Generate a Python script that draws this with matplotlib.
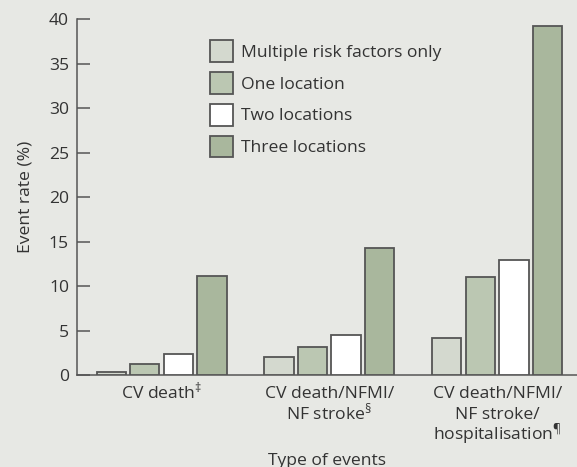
import matplotlib
matplotlib.use("Agg")
import matplotlib.pyplot as plt
import matplotlib.transforms as mtransforms
import numpy as np

categories = ["CV death$^{\\ddagger}$",
              "CV death/NFMI/\nNF stroke$^{\\S}$",
              "CV death/NFMI/\nNF stroke/\nhospitalisation$^{\\P}$"]
series_names = ["Multiple risk factors only", "One location", "Two locations", "Three locations"]
multiple_rf = [0.3, 2.0, 4.2]
one_loc = [1.2, 3.1, 11.0]
two_loc = [2.4, 4.5, 12.9]
three_loc = [11.1, 14.3, 39.3]
yticks = [0, 5, 10, 15, 20, 25, 30, 35, 40]

series = [multiple_rf, one_loc, two_loc, three_loc]
colors = ["#d4d9cf", "#bbc7b2", "#ffffff", "#a9b79d"]

bg = "#e7e8e4"
dark = "#555555"
txt = "#333333"
FS = 12.6
W, H = 577, 467

plt.rcParams['font.family'] = ['Open Sans', 'DejaVu Sans']
plt.rcParams['mathtext.fontset'] = 'custom'
plt.rcParams['mathtext.rm'] = 'Open Sans'
plt.rcParams['mathtext.it'] = 'Open Sans'
plt.rcParams['mathtext.bf'] = 'Open Sans'

fig = plt.figure(figsize=(W/100, H/100), dpi=100, facecolor=bg)
ax = fig.add_axes([77.3/W, 92/H, (W-77.3)/W, 355.7/H])
ax.set_facecolor(bg)

x = np.arange(len(categories))
pitch = 0.2
width = 0.175
for i, (vals, c, name) in enumerate(zip(series, colors, series_names)):
    ax.bar(x + (i - 1.5) * pitch, vals, width=width, color=c, edgecolor=dark,
           linewidth=1.3, label=name, zorder=3)

ax.set_xlim(-0.502, 2.476)
ax.set_ylim(0, 40)
ax.set_yticks(yticks)
ax.set_xticks(x)
ax.set_xticklabels([])

# category labels, one text per line so lines keep an even pitch
tr = mtransforms.blended_transform_factory(ax.transData, fig.transFigure)
base_px = 398.5
line_px = 20.5
for xi, cat in zip(x, categories):
    for k, line in enumerate(cat.split("\n")):
        ax.text(xi, 1 - (base_px + k * line_px) / H, line, transform=tr,
                ha="center", va="baseline", fontsize=FS, color=txt, clip_on=False)

for s in ["top", "right"]:
    ax.spines[s].set_visible(False)
for s in ["left", "bottom"]:
    ax.spines[s].set_color(dark)
    ax.spines[s].set_linewidth(1.1)

ax.tick_params(axis="y", direction="in", length=9, width=1.1, color=dark,
               labelsize=FS, labelcolor=txt, pad=6)
ax.tick_params(axis="x", length=0)

ax.set_ylabel("Event rate (%)", fontsize=FS, color=txt, labelpad=11)
tr2 = mtransforms.blended_transform_factory(ax.transAxes, fig.transFigure)
ax.text(0.5, 1 - 465 / H, "Type of events", transform=tr2, ha="center",
        va="baseline", fontsize=FS, color=txt, clip_on=False)

leg = ax.legend(loc="upper left", bbox_to_anchor=((210-77.3)/499.7, (375-40)/355.7),
                frameon=False, fontsize=FS, handlelength=1.33, handleheight=1.546,
                handletextpad=0.44, labelspacing=0.57, borderpad=0, borderaxespad=0)
for t in leg.get_texts():
    t.set_color(txt)

fig.savefig("out.png", dpi=100, facecolor=bg)
